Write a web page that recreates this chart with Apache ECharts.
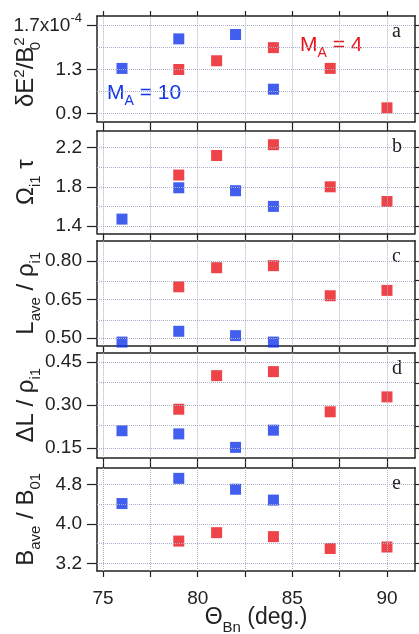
<!DOCTYPE html>
<html>
<head>
<meta charset="utf-8">
<script src="https://cdn.jsdelivr.net/npm/echarts@6/dist/echarts.min.js"></script>
<style>
html, body { margin: 0; padding: 0; background: #fff; }
#chart { width: 419px; height: 634px; }
</style>
</head>
<body>
<div id="chart"></div>
<script>
// theta values for the two Mach numbers
var blueTheta = [76, 79, 82, 84];   // M_A = 10
var redTheta = [79, 81, 84, 87, 90]; // M_A = 4

// panel a: dE^2/B0^2 (x 1e-4)
var blueA = [1.31, 1.58, 1.62, 1.12];
var redA = [1.30, 1.38, 1.50, 1.31, 0.95];
// panel b: Omega_i1 tau
var blueB = [1.47, 1.79, 1.76, 1.60];
var redB = [1.92, 2.12, 2.23, 1.80, 1.65];
// panel c: L_ave / rho_i1
var blueC = [0.485, 0.527, 0.51, 0.485];
var redC = [0.70, 0.774, 0.782, 0.665, 0.686];
// panel d: dL / rho_i1
var blueD = [0.211, 0.200, 0.153, 0.213];
var redD = [0.286, 0.403, 0.417, 0.277, 0.329];
// panel e: B_ave / B01
var blueE = [4.41, 4.92, 4.70, 4.48];
var redE = [3.65, 3.82, 3.74, 3.50, 3.53];

var xTicks = [75, 77.5, 80, 82.5, 85, 87.5, 90];
var xLabels = [75, 80, 85, 90];

var yLabelsA = [0.9, 1.3, 1.7], yGridA = [0.9, 1.1, 1.3, 1.5, 1.7];
var yLabelsB = [1.4, 1.8, 2.2], yGridB = [1.4, 1.6, 1.8, 2.0, 2.2];
var yLabelsC = [0.50, 0.65, 0.80], yGridC = [0.50, 0.575, 0.65, 0.725, 0.80];
var yLabelsD = [0.15, 0.30, 0.45], yGridD = [0.15, 0.225, 0.30, 0.375, 0.45];
var yLabelsE = [3.2, 4.0, 4.8], yGridE = [3.2, 3.6, 4.0, 4.4, 4.8];

var FONT = '"Liberation Sans", Arial, sans-serif';
var BLUE = '#1236ea';
var RED = '#e8141c';
var INK = '#222';

var panels = [
    {blue: blueA, red: redA, labels: yLabelsA, grid: yGridA, min: 0.823, max: 1.789, dec: 1,
     name: 'δE{sup|2}/B{sb|0}{sup|2} ', tag: 'a', top: 16, height: 105.7},
    {blue: blueB, red: redB, labels: yLabelsB, grid: yGridB, min: 1.325, max: 2.37, dec: 1,
     name: 'Ω{sub|i1} τ', tag: 'b', top: 131, height: 102.3},
    {blue: blueC, red: redC, labels: yLabelsC, grid: yGridC, min: 0.471, max: 0.879, dec: 2,
     name: 'L{sub|ave} / ρ{sub|i1}', tag: 'c', top: 240.7, height: 105},
    {blue: blueD, red: redD, labels: yLabelsD, grid: yGridD, min: 0.117, max: 0.483, dec: 2,
     name: 'ΔL / ρ{sub|i1}', tag: 'd', top: 352.7, height: 105},
    {blue: blueE, red: redE, labels: yLabelsE, grid: yGridE, min: 3.044, max: 5.136, dec: 1,
     name: 'B{sub|ave} / B{sub|01}', tag: 'e', top: 467.7, height: 103.3}
];

var richSub = {
    sub: {fontSize: 15, fontFamily: FONT, color: INK, verticalAlign: 'bottom', lineHeight: 34},
    // subscript with the following superscript stacked over it
    sb: {fontSize: 15, fontFamily: FONT, color: INK, verticalAlign: 'bottom', lineHeight: 34, width: 1},
    sup: {fontSize: 15, fontFamily: FONT, color: INK, verticalAlign: 'top', lineHeight: 34, padding: [3, 0, 0, 0]}
};

var gridLine = {color: '#a9aec6', type: 'dotted', width: 1};
var frame = {show: true, lineStyle: {color: INK, width: 1.5}};

function pairs(xs, ys) {
    var out = [];
    for (var i = 0; i < xs.length; i++) out.push([xs[i], ys[i]]);
    return out;
}

var grids = [], xAxes = [], yAxes = [], series = [], graphics = [];

for (var i = 0; i < panels.length; i++) {
    var p = panels[i];
    var last = (i === panels.length - 1);
    grids.push({left: 97, right: 4, top: p.top, height: p.height, outerBoundsMode: 'none', containLabel: false});

    // bottom x axis
    xAxes.push({
        type: 'value', gridIndex: i, position: 'bottom', min: 74.68, max: 91.48,
        axisLine: frame,
        axisTick: {show: true, inside: false, length: last ? 6 : 5, customValues: xTicks, lineStyle: {color: INK, width: 1.2}},
        axisLabel: {show: last, customValues: xLabels, margin: 18, fontSize: 19, fontFamily: FONT, color: INK},
        splitLine: {show: false},
        name: last ? 'Θ{sub|Bn} (deg.)' : '',
        nameLocation: 'middle', nameGap: 30, nameMoveOverlap: false,
        nameTextStyle: {fontSize: 23, fontFamily: FONT, color: INK, lineHeight: 34, rich: richSub}
    });
    // top x axis
    xAxes.push({
        type: 'value', gridIndex: i, position: 'top', min: 74.68, max: 91.48,
        axisLine: frame,
        axisTick: {show: true, inside: false, length: 5, customValues: xTicks, lineStyle: {color: INK, width: 1.2}},
        axisLabel: {show: false},
        splitLine: {show: false}
    });
    // left y axis
    (function (p) {
        yAxes.push({
            type: 'value', gridIndex: i, position: 'left', min: p.min, max: p.max,
            axisLine: frame,
            axisTick: {show: true, inside: false, length: 10, customValues: p.labels, lineStyle: {color: INK, width: 1.2}},
            axisLabel: {
                customValues: p.labels, margin: 15, fontSize: 19, fontFamily: FONT, color: INK,
                formatter: function (v) {
                    if (p.tag === 'a' && Math.abs(v - 1.7) < 1e-6) return '1.7x10{sup|-4}';
                    return v.toFixed(p.dec);
                },
                rich: {sup: {fontSize: 13, fontFamily: FONT, color: INK, verticalAlign: 'top', lineHeight: 28}}
            },
            splitLine: {show: false},
            name: p.name, nameLocation: 'middle', nameRotate: 90, nameGap: 54, nameMoveOverlap: false,
            nameTextStyle: {fontSize: 24, fontFamily: FONT, color: INK, lineHeight: 34, rich: richSub}
        });
    })(p);
    // right y axis
    yAxes.push({
        type: 'value', gridIndex: i, position: 'right', min: p.min, max: p.max,
        axisLine: frame,
        axisTick: {show: true, inside: false, length: 5, customValues: p.grid, lineStyle: {color: INK, width: 1.2}},
        axisLabel: {show: false},
        splitLine: {show: false}
    });

    // dotted grid lines at the tick values
    var gl = [];
    xTicks.forEach(function (v) { gl.push({xAxis: v}); });
    p.grid.forEach(function (v) { gl.push({yAxis: v}); });
    series.push({
        type: 'scatter', xAxisIndex: 2 * i, yAxisIndex: 2 * i, data: [], z: 1,
        markLine: {silent: true, symbol: 'none', label: {show: false}, lineStyle: gridLine, data: gl, animation: false}
    });

    series.push({
        type: 'scatter', xAxisIndex: 2 * i, yAxisIndex: 2 * i, z: 3,
        symbol: 'rect', symbolSize: 11, itemStyle: {color: BLUE},
        data: pairs(blueTheta, p.blue)
    });
    series.push({
        type: 'scatter', xAxisIndex: 2 * i, yAxisIndex: 2 * i, z: 3,
        symbol: 'rect', symbolSize: 11, itemStyle: {color: RED},
        data: pairs(redTheta, p.red)
    });

    graphics.push({
        type: 'text', left: 392, top: p.top + 6,
        style: {text: p.tag, fontSize: 20, fontFamily: '"Liberation Serif", "Times New Roman", serif', fill: INK}
    });
}

graphics.push({
    type: 'text', left: 300, top: 30,
    style: {
        text: 'M{s|A} = 4', fontSize: 21, fontFamily: FONT, fill: RED, lineHeight: 30,
        rich: {s: {fontSize: 14, fontFamily: FONT, fill: RED, verticalAlign: 'bottom', lineHeight: 30}}
    }
});
graphics.push({
    type: 'text', left: 107, top: 78,
    style: {
        text: 'M{s|A} = 10', fontSize: 21, fontFamily: FONT, fill: BLUE, lineHeight: 30,
        rich: {s: {fontSize: 14, fontFamily: FONT, fill: BLUE, verticalAlign: 'bottom', lineHeight: 30}}
    }
});

var myChart = echarts.init(document.getElementById('chart'));
myChart.setOption({
    animation: false,
    backgroundColor: '#fff',
    grid: grids,
    xAxis: xAxes,
    yAxis: yAxes,
    series: series,
    graphic: graphics
});
</script>
</body>
</html>
